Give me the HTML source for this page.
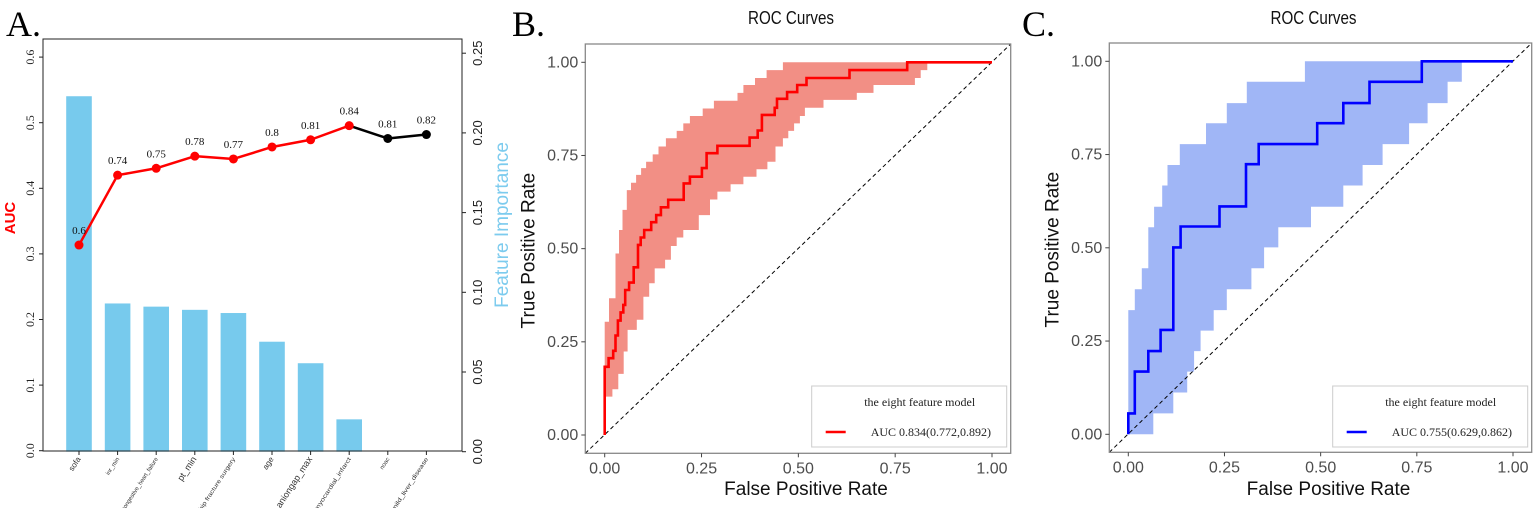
<!DOCTYPE html>
<html><head><meta charset="utf-8"><style>
body{margin:0;background:#fff;width:1535px;height:508px;overflow:hidden}
svg{display:block}
.ser{font-family:"Liberation Serif",serif}
.sans{font-family:"Liberation Sans",sans-serif}
</style></head><body>
<svg id="s" width="1535" height="508" viewBox="0 0 1535 508" xmlns="http://www.w3.org/2000/svg">
<text x="6" y="36" class="ser" font-size="36">A.</text>
<text x="512" y="36" class="ser" font-size="36">B.</text>
<text x="1022" y="36" class="ser" font-size="36">C.</text>
<g id="ga"></g>
<g id="gb"></g>
<g id="gc"></g>
</svg>
<script>
// Panel A data
const features=["sofa","inr_min","congestive_heart_failure","pt_min","hip fracture surgery","age","aniongap_max","myocardial_infarct","noac","mild_liver_disease"];
const importance=[0.223,0.093,0.091,0.089,0.087,0.069,0.0555,0.0203,0,0];
const aucValues=[0.3135,0.420,0.4305,0.449,0.4447,0.463,0.474,0.4955,0.476,0.482];
const aucLabels=["0.6","0.74","0.75","0.78","0.77","0.8","0.81","0.84","0.81","0.82"];
const leftTicks=[0,0.1,0.2,0.3,0.4,0.5,0.6];
const rightTicks=[0,0.05,0.10,0.15,0.20,0.25];
const rightTickLabels=["0.00","0.05","0.10","0.15","0.20","0.25"];
// Panel B data
const bFpr=[0,0,0.010,0.022,0.028,0.034,0.041,0.048,0.053,0.063,0.075,0.086,0.093,0.102,0.120,0.133,0.145,0.164,0.204,0.220,0.251,0.263,0.291,0.374,0.395,0.406,0.439,0.445,0.471,0.497,0.521,0.632,0.781,1.0];
const bTpr=[0,0.183,0.206,0.226,0.267,0.307,0.329,0.349,0.389,0.409,0.45,0.51,0.53,0.55,0.571,0.59,0.611,0.631,0.675,0.693,0.716,0.756,0.776,0.798,0.817,0.859,0.878,0.902,0.92,0.939,0.958,0.979,1.0,1.0];
const bUpFpr=[0,0.011,0.028,0.037,0.046,0.057,0.068,0.081,0.094,0.107,0.124,0.139,0.158,0.186,0.203,0.220,0.253,0.282,0.343,0.358,0.388,0.418,0.460];
const bUp=[0.304,0.367,0.487,0.55,0.604,0.657,0.677,0.698,0.716,0.733,0.753,0.774,0.796,0.816,0.836,0.856,0.876,0.897,0.918,0.939,0.958,0.979,1.0];
const bLoFpr=[0.005,0.020,0.035,0.049,0.059,0.083,0.100,0.115,0.129,0.156,0.171,0.186,0.203,0.243,0.272,0.291,0.325,0.358,0.392,0.420,0.441,0.460,0.474,0.489,0.504,0.517,0.565,0.651,0.694,0.801,0.816,0.833];
const bLo=[0.103,0.123,0.164,0.224,0.282,0.309,0.371,0.407,0.447,0.47,0.507,0.53,0.55,0.59,0.632,0.653,0.673,0.693,0.713,0.733,0.774,0.796,0.816,0.836,0.856,0.878,0.899,0.918,0.939,0.958,0.979,1.0];
// Panel C data
const cFpr=[0,0,0.017,0.052,0.084,0.117,0.136,0.237,0.306,0.339,0.491,0.559,0.627,0.763,1.0];
const cTpr=[0,0.056,0.168,0.223,0.28,0.501,0.557,0.611,0.724,0.778,0.834,0.888,0.945,1.0,1.0];
const cUpFpr=[0,0.017,0.035,0.052,0.067,0.088,0.102,0.134,0.202,0.256,0.308,0.459];
const cUp=[0.333,0.389,0.445,0.555,0.61,0.667,0.722,0.778,0.834,0.888,0.945,1.0];
const cLoFpr=[0,0.065,0.117,0.153,0.171,0.188,0.222,0.256,0.32,0.353,0.39,0.475,0.559,0.609,0.661,0.73,0.778,0.83,0.867];
const cLo=[0,0.056,0.112,0.168,0.223,0.278,0.333,0.389,0.445,0.501,0.555,0.61,0.667,0.722,0.778,0.834,0.888,0.945,1.0];
const rocTicks=[0,0.25,0.5,0.75,1];
const rocTickLabels=["0.00","0.25","0.50","0.75","1.00"];

const NS="http://www.w3.org/2000/svg";
function mk(parent,tag,attrs,txt){const e=document.createElementNS(NS,tag);for(const k in attrs)e.setAttribute(k,attrs[k]);if(txt!==undefined)e.textContent=txt;parent.appendChild(e);return e;}

// ---- Panel A ----
(function(){
const g=document.getElementById('ga');
const L=43,R=462,T=39,B=451;
const yL=v=>450.7-v*656;
const yR=v=>451.7-v*1594;
const xC=i=>79+i*38.6;
features.forEach((f,i)=>{
  const h=importance[i];
  if(h>0){const r=mk(g,'rect',{x:xC(i)-12.8,y:yR(h),width:25.6,height:451.7-yR(h),fill:'#77caed'});
  
  }
});
mk(g,'rect',{x:L,y:T,width:R-L,height:B-T,fill:'none',stroke:'#222','stroke-width':1});
leftTicks.forEach(t=>{
  const y=yL(t);
  mk(g,'line',{x1:L-4,x2:L,y1:y,y2:y,stroke:'#222'});
  const tx=mk(g,'text',{x:0,y:0,transform:`translate(34,${y}) rotate(-90)`,'text-anchor':'middle',class:'ser','font-size':12,fill:'#222'},t.toFixed(1));
  
  
});
rightTicks.forEach((t,i)=>{
  const y=yR(t);
  mk(g,'line',{x1:R,x2:R+4,y1:y,y2:y,stroke:'#222'});
  const tx=mk(g,'text',{x:0,y:0,transform:`translate(482,${y}) rotate(-90)`,'text-anchor':'middle',class:'sans','font-size':13,fill:'#222'},rightTickLabels[i]);
  
  
});
features.forEach((f,i)=>{
  const x=xC(i);
  mk(g,'line',{x1:x,x2:x,y1:B,y2:B+4,stroke:'#222'});
  const fs=(f==='aniongap_max'||f==='pt_min')?9:(f==='sofa'||f==='age')?8:6;
  const tx=mk(g,'text',{x:0,y:0,transform:`translate(${x+2},${B+8}) rotate(-57)`,'text-anchor':'end',class:'sans','font-size':fs,fill:'#333',textLength:f.length>15?66:undefined}.textLength?{x:0,y:0,transform:`translate(${x+2},${B+8}) rotate(-57)`,'text-anchor':'end',class:'sans','font-size':fs,fill:'#333',textLength:62,lengthAdjust:'spacingAndGlyphs'}:{x:0,y:0,transform:`translate(${x+2},${B+8}) rotate(-57)`,'text-anchor':'end',class:'sans','font-size':fs,fill:'#333'},f);
  
  
});
for(let i=1;i<aucValues.length;i++){
  const l=mk(g,'line',{x1:xC(i-1),y1:yL(aucValues[i-1]),x2:xC(i),y2:yL(aucValues[i]),stroke:i>=8?'#000':'#f00','stroke-width':2.5});
  
  
}
aucValues.forEach((v,i)=>{
  const c=mk(g,'circle',{cx:xC(i),cy:yL(v),r:4.5,fill:i>=8?'#000':'#f00'});
  
  
  const t=mk(g,'text',{x:xC(i),y:yL(v)-11,'text-anchor':'middle',class:'ser','font-size':11,fill:'#111'},aucLabels[i]);
  
  
});
const a=mk(g,'text',{x:0,y:0,transform:'translate(15,218) rotate(-90)','text-anchor':'middle',class:'sans','font-size':15,'font-weight':'bold',fill:'#f00'},'AUC');


const fi=mk(g,'text',{x:0,y:0,transform:'translate(508,225) rotate(-90)','text-anchor':'middle',class:'sans','font-size':19,fill:'#7ccbee'},'Feature Importance');


})();

// ---- ROC panels ----
function roc(gid,box,x0,x1,y0,y1,fpr,tpr,uf,up,lf,lo,lineCol,bandCol,aucText){
  const g=document.getElementById(gid);
  const X=v=>x0+v*(x1-x0), Y=v=>y0+v*(y1-y0);
  let pts=[[0,up[0]]];
  for(let i=1;i<uf.length;i++){pts.push([uf[i],up[i-1]]);pts.push([uf[i],up[i]]);}
  const lastX=lf[lf.length-1];
  pts.push([lastX,1]);
  let low=[[0,lo[0]],[lf[0],lo[0]]];
  for(let i=1;i<lf.length;i++){low.push([lf[i],lo[i-1]]);low.push([lf[i],lo[i]]);}
  pts=pts.concat(low.reverse());
  const band=mk(g,'polygon',{points:pts.map(p=>X(p[0]).toFixed(1)+','+Y(p[1]).toFixed(1)).join(' '),fill:bandCol});
  
  
  const d=mk(g,'line',{x1:box[0],y1:box[3],x2:box[2],y2:box[1],stroke:'#000','stroke-width':1,'stroke-dasharray':'4,3'});
  
  
  let p='M'+X(fpr[0])+','+Y(tpr[0]);
  for(let i=1;i<fpr.length;i++){p+=' L'+X(fpr[i]).toFixed(1)+','+Y(tpr[i-1]).toFixed(1)+' L'+X(fpr[i]).toFixed(1)+','+Y(tpr[i]).toFixed(1);}
  const c=mk(g,'path',{d:p,fill:'none',stroke:lineCol,'stroke-width':2.6});
  
  
  mk(g,'rect',{x:box[0],y:box[1],width:box[2]-box[0],height:box[3]-box[1],fill:'none',stroke:'#888','stroke-width':1.3});
  rocTicks.forEach((t,i)=>{
    const xx=X(t),yy=Y(t);
    mk(g,'line',{x1:xx,x2:xx,y1:box[3],y2:box[3]+4,stroke:'#444'});
    mk(g,'line',{x1:box[0]-4,x2:box[0],y1:yy,y2:yy,stroke:'#444'});
    const tx=mk(g,'text',{x:xx,y:box[3]+20,'text-anchor':'middle',class:'sans','font-size':16,fill:'#4d4d4d'},rocTickLabels[i]);
    
    
    const ty=mk(g,'text',{x:box[0]-7,y:yy+5,'text-anchor':'end',class:'sans','font-size':16,fill:'#4d4d4d'},rocTickLabels[i]);
    
    
  });
  const cx=(box[0]+box[2])/2;
  const xt=mk(g,'text',{x:cx+8,y:495,'text-anchor':'middle',class:'sans','font-size':19,fill:'#111'},'False Positive Rate');
  
  
  const yt=mk(g,'text',{x:0,y:0,transform:`translate(${box[0]-51},${(box[1]+box[3])/2+2}) rotate(-90)`,'text-anchor':'middle',class:'sans','font-size':19,fill:'#111'},'True Positive Rate');
  
  
  const ti=mk(g,'text',{x:cx-50,y:24,class:'sans','font-size':18,fill:'#111',textLength:86,lengthAdjust:'spacingAndGlyphs'},'ROC Curves');
  
  
  const lx=box[2]-199,ly=386;
  const lg=mk(g,'g',{});
  
  
  mk(lg,'rect',{x:lx,y:ly,width:195,height:61,fill:'#fff',stroke:'#ccc','stroke-width':1});
  mk(lg,'text',{x:lx+108,y:ly+20,'text-anchor':'middle',class:'ser','font-size':12,fill:'#222'},'the eight feature model');
  const ll=mk(lg,'line',{x1:lx+14,x2:lx+34,y1:ly+46,y2:ly+46,stroke:lineCol,'stroke-width':2.6});
  
  
  const lt=mk(lg,'text',{x:lx+59,y:ly+50,class:'ser','font-size':12,fill:'#222'},aucText);
  
  
}
roc('gb',[585.3,44,1010.7,453.3],604.7,992,435,62.3,bFpr,bTpr,bUpFpr,bUp,bLoFpr,bLo,'#ff0000','#f28f85','AUC 0.834(0.772,0.892)');
roc('gc',[1109.3,43,1531.7,452.3],1128.3,1513,434.3,61.3,cFpr,cTpr,cUpFpr,cUp,cLoFpr,cLo,'#0000ff','#a0b6f6','AUC 0.755(0.629,0.862)');
</script>
</body></html>
